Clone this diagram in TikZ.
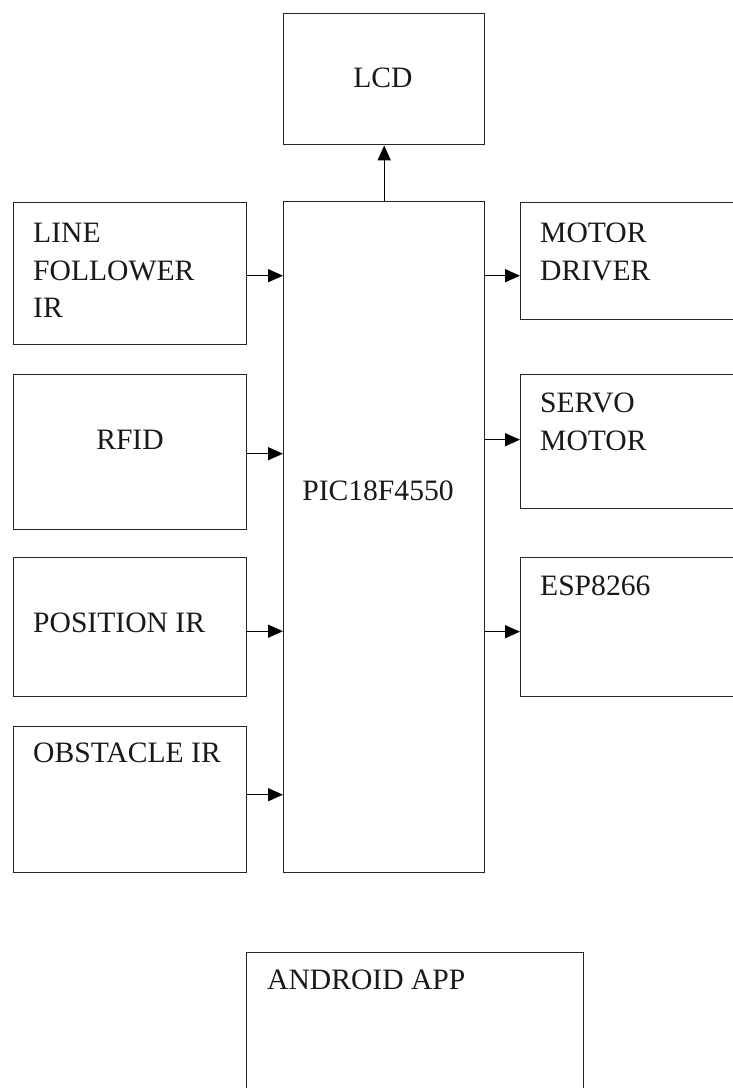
\documentclass[tikz,border=0pt]{standalone}
\usepackage{fontspec}
\setmainfont{Liberation Serif}
\usetikzlibrary{arrows.meta}
\begin{document}
\begin{tikzpicture}[x=1pt,y=-1pt,
  box/.style={draw=black!85, line width=1.4pt, inner sep=0pt, anchor=north west, rectangle},
  lbl/.style={inner sep=0pt, font=\fontsize{29.6}{37.5}\selectfont, align=left, text=black!90},
  arr/.style={line width=1.4pt, -{Triangle[length=15pt,width=13pt]}}]
\useasboundingbox (0,0) rectangle (733,1088);
\clip (0,0) rectangle (733,1088);
% boxes
\node[box, minimum width=201pt, minimum height=131pt] (lcd) at (283,13) {};
\node[box, minimum width=201pt, minimum height=671pt] (pic) at (283,201) {};
\node[box, minimum width=233pt, minimum height=142pt] (lf) at (13,202) {};
\node[box, minimum width=233pt, minimum height=155pt] (rfid) at (13,374) {};
\node[box, minimum width=233pt, minimum height=139pt] (pos) at (13,557) {};
\node[box, minimum width=233pt, minimum height=146pt] (obs) at (13,726) {};
\node[box, minimum width=260pt, minimum height=117pt] (md) at (520,202) {};
\node[box, minimum width=260pt, minimum height=134pt] (servo) at (520,374) {};
\node[box, minimum width=260pt, minimum height=139pt] (esp) at (520,557) {};
\node[box, minimum width=337pt, minimum height=200pt] (app) at (246,952) {};
% labels
\node[lbl] (lcdT) at (383,78) {LCD};
\node[lbl] (picT) at (378,490.5) {PIC18F4550};
\node[lbl] (rfidT) at (130,440) {RFID};
\node[lbl, anchor=north west] (lfT) at (33,223) {LINE\\FOLLOWER\\IR};
\node[lbl, anchor=north west] (posT) at (33,613) {POSITION IR};
\node[lbl, anchor=north west] (obsT) at (33,743) {OBSTACLE IR};
\node[lbl, anchor=north west] (mdT) at (540,223) {MOTOR\\DRIVER};
\node[lbl, anchor=north west] (servoT) at (540,393) {SERVO\\MOTOR};
\node[lbl, anchor=north west] (espT) at (540,576) {ESP8266};
\node[lbl, anchor=north west] (appT) at (267,970) {ANDROID APP};
% connectors
\coordinate (lfo) at ([yshift=-2pt]lf.east);
\coordinate (rfido) at ([yshift=-1.5pt]rfid.east);
\coordinate (poso) at ([yshift=-4pt]pos.east);
\coordinate (obso) at ([yshift=5pt]obs.east);
\coordinate (mdi) at ([yshift=-14.5pt]md.west);
\coordinate (servoi) at ([yshift=2pt]servo.west);
\coordinate (espi) at ([yshift=-4.5pt]esp.west);
\draw[arr] (pic.north) -- (lcd.south);
\draw[arr] (lfo) -- (lfo -| pic.west);
\draw[arr] (rfido) -- (rfido -| pic.west);
\draw[arr] (poso) -- (poso -| pic.west);
\draw[arr] (obso) -- (obso -| pic.west);
\draw[arr] (mdi -| pic.east) -- (mdi);
\draw[arr] (servoi -| pic.east) -- (servoi);
\draw[arr] (espi -| pic.east) -- (espi);
\end{tikzpicture}
\end{document}
